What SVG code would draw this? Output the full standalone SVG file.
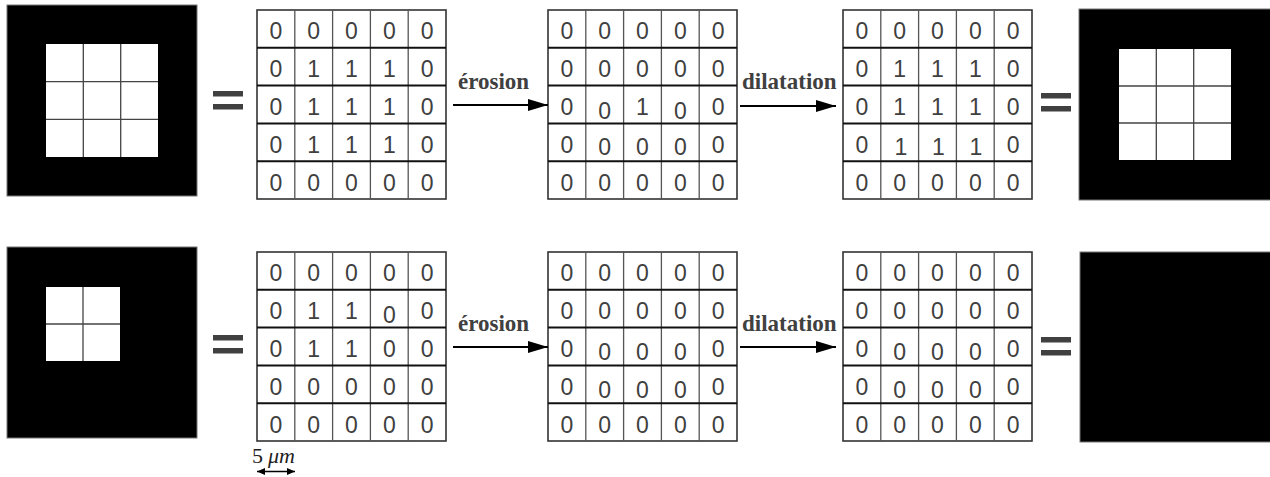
<svg xmlns="http://www.w3.org/2000/svg" xmlns:xlink="http://www.w3.org/1999/xlink" width="1270" height="477" viewBox="0 0 1270 477">
<style>
.d{font-family:"Liberation Sans",Arial,sans-serif;font-size:23px;fill:#404040;text-anchor:middle}
.lbl{font-family:"Liberation Serif","Times New Roman",serif;font-size:23px;font-weight:bold;fill:#404040}
.scale{font-family:"Liberation Serif","Times New Roman",serif;font-size:22px;fill:#222}
.blk{fill:#000;stroke:#777;stroke-width:1}
.wc{fill:#fff}
.wl{stroke:#444;stroke-width:1.3;fill:none}
.eq{fill:#404040}
.arr{stroke:#000;stroke-width:2;fill:none}
.dbl{stroke:#000;stroke-width:1.3;fill:none}
</style>
<defs>
<marker id="ah" markerUnits="userSpaceOnUse" markerWidth="20" markerHeight="12" refX="20" refY="6" orient="auto">
<path d="M0,0 L20,6 L0,12 Z" fill="#000"/>
</marker>
<marker id="sh" markerUnits="userSpaceOnUse" markerWidth="8" markerHeight="7" refX="8" refY="3.5" orient="auto-start-reverse">
<path d="M0,0 L8,3.5 L0,7 Z" fill="#000"/>
</marker>
<g id="grid">
<rect x="0" y="0" width="189" height="189" fill="#fff" stroke="#333" stroke-width="1.6"/>
<path d="M37.8,0V189M75.6,0V189M113.4,0V189M151.2,0V189" stroke="#555" stroke-width="1.3"/>
<path d="M0,37.8H189M0,75.6H189M0,113.4H189M0,151.2H189" stroke="#111" stroke-width="2"/>
</g>
</defs>

<!-- top row -->
<g id="img-top-in">
<rect class="blk" x="7" y="5" width="190" height="191"/>
<rect class="wc" x="46" y="44" width="112" height="113"/>
<path class="wl" d="M83.3,44V157M120.7,44V157M46,81.7H158M46,119.3H158"/>
</g>
<g id="eq-top-1"><rect class="eq" x="213" y="91" width="30" height="5.5"/><rect class="eq" x="213" y="104" width="30" height="5.5"/></g>

<g id="mat-top-1" transform="translate(257,10)">
<use xlink:href="#grid"/>
<text class="d" x="18.9" y="29.3">0</text><text class="d" x="56.7" y="29.3">0</text><text class="d" x="94.5" y="29.3">0</text><text class="d" x="132.3" y="29.3">0</text><text class="d" x="170.1" y="29.3">0</text>
<text class="d" x="18.9" y="67.1">0</text><text class="d" x="56.7" y="67.1">1</text><text class="d" x="94.5" y="67.1">1</text><text class="d" x="132.3" y="67.1">1</text><text class="d" x="170.1" y="67.1">0</text>
<text class="d" x="18.9" y="104.9">0</text><text class="d" x="56.7" y="104.9">1</text><text class="d" x="94.5" y="104.9">1</text><text class="d" x="132.3" y="104.9">1</text><text class="d" x="170.1" y="104.9">0</text>
<text class="d" x="18.9" y="142.7">0</text><text class="d" x="56.7" y="142.7">1</text><text class="d" x="94.5" y="142.7">1</text><text class="d" x="132.3" y="142.7">1</text><text class="d" x="170.1" y="142.7">0</text>
<text class="d" x="18.9" y="180.5">0</text><text class="d" x="56.7" y="180.5">0</text><text class="d" x="94.5" y="180.5">0</text><text class="d" x="132.3" y="180.5">0</text><text class="d" x="170.1" y="180.5">0</text>
</g>

<g id="mat-top-2" transform="translate(548,10)">
<use xlink:href="#grid"/>
<text class="d" x="18.9" y="29.3">0</text><text class="d" x="56.7" y="29.3">0</text><text class="d" x="94.5" y="29.3">0</text><text class="d" x="132.3" y="29.3">0</text><text class="d" x="170.1" y="29.3">0</text>
<text class="d" x="18.9" y="67.1">0</text><text class="d" x="56.7" y="67.1">0</text><text class="d" x="94.5" y="67.1">0</text><text class="d" x="132.3" y="67.1">0</text><text class="d" x="170.1" y="67.1">0</text>
<text class="d" x="18.9" y="104.9">0</text><text class="d" x="56.7" y="108.9">0</text><text class="d" x="94.5" y="104.9">1</text><text class="d" x="132.3" y="108.9">0</text><text class="d" x="170.1" y="104.9">0</text>
<text class="d" x="18.9" y="142.7">0</text><text class="d" x="56.7" y="144.7">0</text><text class="d" x="94.5" y="144.7">0</text><text class="d" x="132.3" y="144.7">0</text><text class="d" x="170.1" y="142.7">0</text>
<text class="d" x="18.9" y="180.5">0</text><text class="d" x="56.7" y="180.5">0</text><text class="d" x="94.5" y="180.5">0</text><text class="d" x="132.3" y="180.5">0</text><text class="d" x="170.1" y="180.5">0</text>
</g>

<g id="mat-top-3" transform="translate(843,10)">
<use xlink:href="#grid"/>
<text class="d" x="18.9" y="29.3">0</text><text class="d" x="56.7" y="29.3">0</text><text class="d" x="94.5" y="29.3">0</text><text class="d" x="132.3" y="29.3">0</text><text class="d" x="170.1" y="29.3">0</text>
<text class="d" x="18.9" y="67.1">0</text><text class="d" x="56.7" y="67.1">1</text><text class="d" x="94.5" y="67.1">1</text><text class="d" x="132.3" y="67.1">1</text><text class="d" x="170.1" y="67.1">0</text>
<text class="d" x="18.9" y="104.9">0</text><text class="d" x="56.7" y="104.9">1</text><text class="d" x="94.5" y="104.9">1</text><text class="d" x="132.3" y="104.9">1</text><text class="d" x="170.1" y="104.9">0</text>
<text class="d" x="18.9" y="142.7">0</text><text class="d" x="58" y="144.7">1</text><text class="d" x="95.5" y="144.7">1</text><text class="d" x="133" y="144.7">1</text><text class="d" x="170.1" y="142.7">0</text>
<text class="d" x="18.9" y="180.5">0</text><text class="d" x="56.7" y="180.5">0</text><text class="d" x="94.5" y="180.5">0</text><text class="d" x="132.3" y="180.5">0</text><text class="d" x="170.1" y="180.5">0</text>
</g>

<g id="eq-top-2"><rect class="eq" x="1041" y="93" width="30" height="5.5"/><rect class="eq" x="1041" y="106" width="30" height="5.5"/></g>
<g id="img-top-out">
<rect class="blk" x="1079" y="9" width="192" height="191"/>
<rect class="wc" x="1119" y="49" width="112" height="111"/>
<path class="wl" d="M1156.3,49V160M1193.7,49V160M1119,86H1231M1119,123H1231"/>
</g>

<!-- bottom row -->
<g id="img-bot-in">
<rect class="blk" x="7" y="247" width="190" height="191"/>
<rect class="wc" x="46" y="287" width="74" height="74"/>
<path class="wl" d="M83,287V361M46,324H120"/>
</g>
<g id="eq-bot-1"><rect class="eq" x="213" y="335" width="30" height="5.5"/><rect class="eq" x="213" y="348" width="30" height="5.5"/></g>

<g id="mat-bot-1" transform="translate(257,252)">
<use xlink:href="#grid"/>
<text class="d" x="18.9" y="29.3">0</text><text class="d" x="56.7" y="29.3">0</text><text class="d" x="94.5" y="29.3">0</text><text class="d" x="132.3" y="29.3">0</text><text class="d" x="170.1" y="29.3">0</text>
<text class="d" x="18.9" y="67.1">0</text><text class="d" x="56.7" y="67.1">1</text><text class="d" x="94.5" y="67.1">1</text><text class="d" x="132.3" y="71.1">0</text><text class="d" x="170.1" y="67.1">0</text>
<text class="d" x="18.9" y="104.9">0</text><text class="d" x="56.7" y="104.9">1</text><text class="d" x="94.5" y="104.9">1</text><text class="d" x="132.3" y="104.9">0</text><text class="d" x="170.1" y="104.9">0</text>
<text class="d" x="18.9" y="142.7">0</text><text class="d" x="56.7" y="142.7">0</text><text class="d" x="94.5" y="142.7">0</text><text class="d" x="132.3" y="142.7">0</text><text class="d" x="170.1" y="142.7">0</text>
<text class="d" x="18.9" y="180.5">0</text><text class="d" x="56.7" y="180.5">0</text><text class="d" x="94.5" y="180.5">0</text><text class="d" x="132.3" y="180.5">0</text><text class="d" x="170.1" y="180.5">0</text>
</g>

<g id="mat-bot-2" transform="translate(548,252)">
<use xlink:href="#grid"/>
<text class="d" x="18.9" y="29.3">0</text><text class="d" x="56.7" y="29.3">0</text><text class="d" x="94.5" y="29.3">0</text><text class="d" x="132.3" y="29.3">0</text><text class="d" x="170.1" y="29.3">0</text>
<text class="d" x="18.9" y="67.1">0</text><text class="d" x="56.7" y="67.1">0</text><text class="d" x="94.5" y="67.1">0</text><text class="d" x="132.3" y="67.1">0</text><text class="d" x="170.1" y="67.1">0</text>
<text class="d" x="18.9" y="104.9">0</text><text class="d" x="56.7" y="107.9">0</text><text class="d" x="94.5" y="107.9">0</text><text class="d" x="132.3" y="107.9">0</text><text class="d" x="170.1" y="104.9">0</text>
<text class="d" x="18.9" y="142.7">0</text><text class="d" x="56.7" y="145.7">0</text><text class="d" x="94.5" y="145.7">0</text><text class="d" x="132.3" y="145.7">0</text><text class="d" x="170.1" y="142.7">0</text>
<text class="d" x="18.9" y="180.5">0</text><text class="d" x="56.7" y="180.5">0</text><text class="d" x="94.5" y="180.5">0</text><text class="d" x="132.3" y="180.5">0</text><text class="d" x="170.1" y="180.5">0</text>
</g>

<g id="mat-bot-3" transform="translate(843,252)">
<use xlink:href="#grid"/>
<text class="d" x="18.9" y="29.3">0</text><text class="d" x="56.7" y="29.3">0</text><text class="d" x="94.5" y="29.3">0</text><text class="d" x="132.3" y="29.3">0</text><text class="d" x="170.1" y="29.3">0</text>
<text class="d" x="18.9" y="67.1">0</text><text class="d" x="56.7" y="67.1">0</text><text class="d" x="94.5" y="67.1">0</text><text class="d" x="132.3" y="67.1">0</text><text class="d" x="170.1" y="67.1">0</text>
<text class="d" x="18.9" y="104.9">0</text><text class="d" x="56.7" y="107.9">0</text><text class="d" x="94.5" y="107.9">0</text><text class="d" x="132.3" y="107.9">0</text><text class="d" x="170.1" y="104.9">0</text>
<text class="d" x="18.9" y="142.7">0</text><text class="d" x="56.7" y="145.7">0</text><text class="d" x="94.5" y="145.7">0</text><text class="d" x="132.3" y="145.7">0</text><text class="d" x="170.1" y="142.7">0</text>
<text class="d" x="18.9" y="180.5">0</text><text class="d" x="56.7" y="180.5">0</text><text class="d" x="94.5" y="180.5">0</text><text class="d" x="132.3" y="180.5">0</text><text class="d" x="170.1" y="180.5">0</text>
</g>

<g id="eq-bot-2"><rect class="eq" x="1041" y="337" width="30" height="5.5"/><rect class="eq" x="1041" y="350" width="30" height="5.5"/></g>
<g id="img-bot-out">
<rect class="blk" x="1080" y="252" width="191" height="190"/>
</g>

<g id="scale-bar">
<text class="scale" x="252" y="463">5<tspan x="268" font-style="italic">μm</tspan></text>
<line class="dbl" x1="257" y1="471.5" x2="295" y2="471.5" marker-start="url(#sh)" marker-end="url(#sh)"/>
</g>

<!-- connectors -->
<g id="connectors">
<line class="arr" x1="453" y1="105" x2="548" y2="105" marker-end="url(#ah)"/>
<text class="lbl" x="458" y="89">érosion</text>
<line class="arr" x1="740" y1="106" x2="836" y2="106" marker-end="url(#ah)"/>
<text class="lbl" x="742" y="89">dilatation</text>
<line class="arr" x1="453" y1="347" x2="548" y2="347" marker-end="url(#ah)"/>
<text class="lbl" x="458" y="331">érosion</text>
<line class="arr" x1="740" y1="347" x2="836" y2="347" marker-end="url(#ah)"/>
<text class="lbl" x="742" y="331">dilatation</text>
</g>
</svg>
